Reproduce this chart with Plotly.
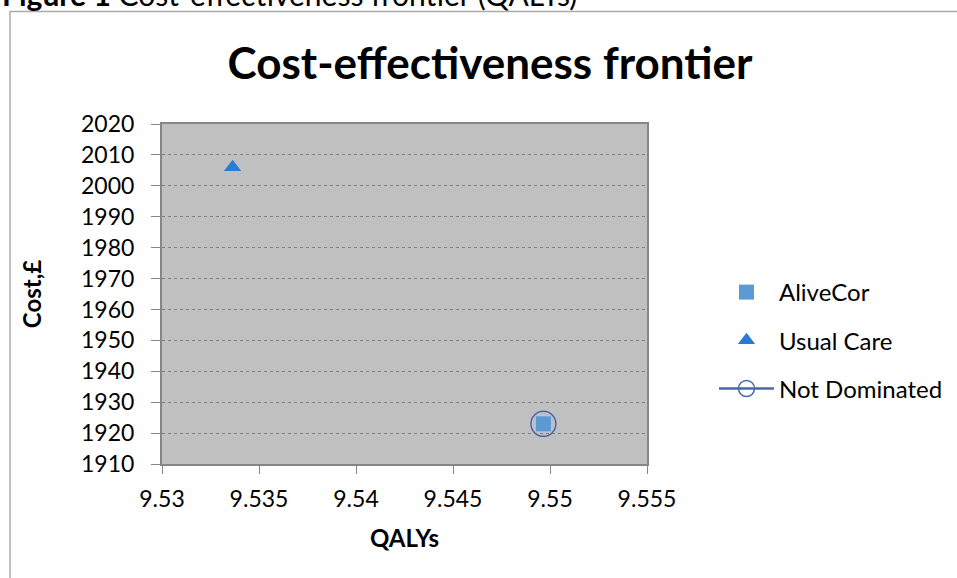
import plotly.graph_objects as go

# Strategy results
strategies = ["AliveCor", "Usual Care"]
qalys = [9.54966, 9.53364]
costs = [1923, 2006]

# Axis ticks
qaly_ticks = [9.53, 9.535, 9.54, 9.545, 9.55, 9.555]
qaly_tick_labels = ["9.53", "9.535", "9.54", "9.545", "9.55", "9.555"]
cost_ticks = [1910, 1920, 1930, 1940, 1950, 1960, 1970, 1980, 1990, 2000, 2010, 2020]
cost_tick_labels = [str(v) for v in cost_ticks]

# Non-dominated strategies (no other strategy is both cheaper and more effective)
frontier = [
    i for i in range(len(strategies))
    if not any(
        j != i and costs[j] <= costs[i] and qalys[j] >= qalys[i]
        for j in range(len(strategies))
    )
]
frontier.sort(key=lambda i: qalys[i])
frontier_q = [qalys[i] for i in frontier]
frontier_c = [costs[i] for i in frontier]

W, H = 957, 578
FONT = "Lato, 'DejaVu Sans', sans-serif"


def px_x(x):
    return x / W


def px_y(y):
    return (H - y) / H


styles = {
    "AliveCor": dict(symbol="square", size=15, color="#5b9bd5"),
    "Usual Care": dict(symbol="triangle-up", size=15, color="#2a7bd8"),
}

fig = go.Figure()

for k, name in enumerate(strategies):
    st = styles[name]
    fig.add_trace(go.Scatter(
        x=[qalys[k]], y=[costs[k]], name=name, mode="markers",
        legendgroup=name,
        marker=dict(symbol=st["symbol"], size=st["size"], color=st["color"],
                    line=dict(width=0)),
    ))

fig.add_trace(go.Scatter(
    x=frontier_q, y=frontier_c, name="Not Dominated", mode="lines+markers",
    legendgroup="Not Dominated",
    line=dict(color="#4a66ac", width=2.5),
    marker=dict(symbol="circle-open", size=25, color="#4a66ac",
                line=dict(width=1.5, color="#4a66ac")),
))

axis_common = dict(
    showline=True, mirror=True, linecolor="#868686", linewidth=2,
    ticks="outside", tickcolor="#868686", tickwidth=1,
    tickfont=dict(family=FONT, size=23, color="#000000"),
    zeroline=False, automargin=False,
)

fig.update_xaxes(
    **axis_common,
    domain=[px_x(162), px_x(647)],
    range=[9.53, 9.555],
    tickvals=qaly_ticks, ticktext=qaly_tick_labels,
    ticklen=8, ticklabelstandoff=5,
    showgrid=False,
    title=dict(text="<b>QALYs</b>", font=dict(family=FONT, size=24, color="#000000"),
               standoff=20),
)

fig.update_yaxes(
    **axis_common,
    domain=[px_y(464), px_y(124)],
    range=[1910, 2020],
    tickvals=cost_ticks, ticktext=cost_tick_labels,
    ticklen=9, ticklabelstandoff=12,
    showgrid=True, gridcolor="#7f7f7f", gridwidth=1, griddash="dot",
    title=dict(text="<b>Cost,£</b>", font=dict(family=FONT, size=24, color="#000000"),
               standoff=33),
)

fig.update_layout(
    width=W, height=H,
    margin=dict(l=0, r=0, t=0, b=0, autoexpand=False),
    paper_bgcolor="#ffffff",
    plot_bgcolor="#c0c0c0",
    font=dict(family=FONT, color="#000000"),
    title=dict(
        text="<b>Cost-effectiveness frontier</b>",
        font=dict(family=FONT, size=44, color="#000000"),
        x=px_x(490), xanchor="center", xref="paper",
        y=px_y(64), yanchor="middle", yref="paper",
    ),
    legend=dict(
        x=px_x(714), xanchor="left", y=px_y(270), yanchor="top",
        font=dict(family=FONT, size=24, color="#000000"),
        bgcolor="rgba(0,0,0,0)", tracegroupgap=14,
        itemsizing="trace", itemwidth=55,
    ),
    showlegend=True,
)

# Chart frame and the figure caption above it
fig.add_shape(type="rect", xref="paper", yref="paper",
              x0=px_x(10), x1=px_x(980), y0=px_y(600), y1=px_y(11.5),
              line=dict(color="#ababab", width=1.5), fillcolor="rgba(0,0,0,0)",
              layer="below")
fig.add_annotation(
    text="<b>Figure 1</b> Cost-effectiveness frontier (QALYs)",
    xref="paper", yref="paper", x=px_x(0), xanchor="left",
    y=px_y(14.5), yanchor="bottom", showarrow=False,
    font=dict(family=FONT, size=30, color="#000000"),
)

fig.write_html("out.html")
